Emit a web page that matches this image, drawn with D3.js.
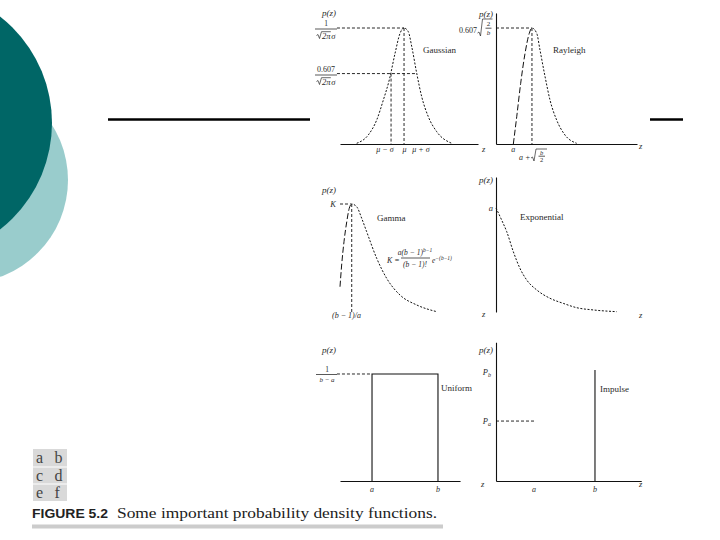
<!DOCTYPE html>
<html>
<head>
<meta charset="utf-8">
<script src="https://d3js.org/d3.v7.min.js"></script>
<style>
  body { margin: 0; background: #fff; }
  svg { display: block; }
  .lbl { font-family: "Liberation Serif", "DejaVu Serif", serif; fill: #2a2a2a; }
</style>
</head>
<body>
<div id="chart"></div>
<script>
//curve samples: z in panel units (0-10), p scaled so each peak is 1
var gaussianPoints = [[1.21, 0.006], [2.05, 0.078], [2.66, 0.207], [3.14, 0.379], [3.57, 0.552], [3.99, 0.782],
    [4.35, 0.954], [4.64, 1.0], [4.95, 0.968], [5.20, 0.839], [5.56, 0.609], [5.92, 0.408], [6.40, 0.235],
    [7.01, 0.106], [8.09, 0.006]];
var gaussianMarks = [3.70, 4.64, 5.58];          // mu - sigma, mu, mu + sigma
var gaussianLevels = [0.607, 1.0];

var rayleighPoints = [[1.23, 0], [1.47, 0.235], [1.75, 0.523], [2.06, 0.782], [2.36, 0.954], [2.55, 1.0],
    [2.89, 0.954], [3.12, 0.81], [3.48, 0.58], [3.83, 0.379], [4.30, 0.207], [4.89, 0.078], [5.72, 0.006]];
var rayleighMarks = [1.23, 2.55];                 // a, a + sqrt(b/2)

var gammaPoints = [[0, 0.234], [0.12, 0.435], [0.29, 0.651], [0.49, 0.836], [0.67, 0.96], [0.85, 1.0],
    [1.21, 0.975], [1.57, 0.868], [1.93, 0.744], [2.66, 0.497], [3.38, 0.312], [4.35, 0.157], [5.56, 0.065],
    [7.01, 0.003]];
var gammaPeak = 0.85;

var exponentialPoints = [[0, 0.963], [0.40, 0.852], [0.76, 0.744], [1.23, 0.558], [1.70, 0.404], [2.18, 0.296],
    [2.89, 0.204], [3.83, 0.127], [4.77, 0.080], [5.72, 0.040], [6.90, 0.019], [8.56, 0.003]];

var uniformEdges = [2.32, 7.10];
var uniformHeight = 0.964;

var impulseZ = [2.70, 7.02];
var impulseP = [0.54, 1.0];

var panelNames = ["Gaussian", "Rayleigh", "Gamma", "Exponential", "Uniform", "Impulse"];
var gridLetters = [["a", "b"], ["c", "d"], ["e", "f"]];

//svg area
var svg = d3.select("#chart")
    .append("svg")
    .attr("width", 720)
    .attr("height", 540);

//slide decoration: two teal discs and the title rule
svg.append("circle").attr("cx", -35).attr("cy", 180).attr("r", 103).attr("fill", "#99cccc");
svg.append("circle").attr("cx", -83).attr("cy", 123).attr("r", 135).attr("fill", "#006666");
svg.append("line")
    .attr("x1", 108).attr("x2", 683)
    .attr("y1", 119.5).attr("y2", 119.5)
    .attr("stroke", "#000")
    .attr("stroke-width", 2.5);

//white figure area sits on top of the rule
svg.append("rect")
    .attr("x", 310).attr("y", 0)
    .attr("width", 340).attr("height", 500)
    .attr("fill", "#fff");

var fig = svg.append("g");
var defs = svg.append("defs");

//scales: two columns, three rows
var xLeft = d3.scaleLinear().domain([0, 10]).range([340, 478]);
var xRight = d3.scaleLinear().domain([0, 10]).range([496, 637]);
var yRows = [
    d3.scaleLinear().domain([0, 1]).range([144, 28]),
    d3.scaleLinear().domain([0, 1]).range([312, 204]),
    d3.scaleLinear().domain([0, 1]).range([481, 370])
];

//helpers
function label(x, y, str, size, anchor, italic) {
    return fig.append("text")
        .attr("class", "lbl")
        .attr("x", x)
        .attr("y", y)
        .attr("font-size", size)
        .attr("text-anchor", anchor || "start")
        .attr("font-style", italic ? "italic" : "normal")
        .text(str);
}

function seg(x1, y1, x2, y2, dash, width) {
    return fig.append("line")
        .attr("x1", x1).attr("y1", y1)
        .attr("x2", x2).attr("y2", y2)
        .attr("stroke", "#111")
        .attr("stroke-width", width || 0.9)
        .attr("stroke-dasharray", dash || null);
}

function xAxis(x, y, zMax) {
    var s = x.copy().domain([0, zMax]).range([x(0), x(zMax)]);
    fig.append("g")
        .attr("transform", `translate(0, ${y(0)})`)
        .call(d3.axisBottom(s).tickValues([]).tickSizeOuter(0))
        .call(g => g.select(".domain").attr("stroke", "#111").attr("stroke-width", 1.1));
}

function yAxis(x, y, pMax) {
    var s = y.copy().domain([0, pMax]).range([y(0), y(pMax)]);
    fig.append("g")
        .attr("transform", `translate(${x(0)}, 0)`)
        .call(d3.axisLeft(s).tickValues([]).tickSizeOuter(0))
        .call(g => g.select(".domain").attr("stroke", "#111").attr("stroke-width", 1.1));
}

//draw a curve, steep rising side with long dashes, the rest dotted
function curve(points, x, y, splitZ, id) {
    var line = d3.line()
        .x(d => x(d[0]))
        .y(d => y(d[1]))
        .curve(d3.curveMonotoneX);
    var parts = [];
    if (splitZ != null) {
        defs.append("clipPath").attr("id", id + "-rise")
            .append("rect").attr("x", 0).attr("y", 0).attr("width", x(splitZ)).attr("height", 540);
        defs.append("clipPath").attr("id", id + "-fall")
            .append("rect").attr("x", x(splitZ)).attr("y", 0).attr("width", 720).attr("height", 540);
        parts = [[id + "-rise", "6,2.5"], [id + "-fall", "2,1.6"]];
    } else {
        parts = [[null, "2,1.6"]];
    }
    parts.forEach(function(p) {
        fig.append("path")
            .datum(points)
            .attr("d", line)
            .attr("fill", "none")
            .attr("stroke", "#111")
            .attr("stroke-width", 1)
            .attr("stroke-dasharray", p[1])
            .attr("clip-path", p[0] ? `url(#${p[0]})` : null);
    });
}

function radical(x, top, bottom, right) {
    fig.append("path")
        .attr("d", `M${x},${bottom - 3} L${x + 1.5},${bottom - 4} L${x + 3},${bottom} L${x + 5},${top} H${right}`)
        .attr("fill", "none")
        .attr("stroke", "#2a2a2a")
        .attr("stroke-width", 0.7);
}

//"sqrt(2 pi) sigma" denominator centred on cx
function sqrtTwoPiSigma(cx, base, size) {
    var t = label(0, base, "2π", size, "start", true);
    var w = t.node().getComputedTextLength();
    var s = label(0, base, "σ", size, "start", true);
    var ws = s.node().getComputedTextLength();
    var left = cx - (5.5 + w + 0.8 + ws) / 2;
    t.attr("x", left + 5.5);
    s.attr("x", left + 5.5 + w + 0.8);
    radical(left, base - size * 0.8, base, left + 5.5 + w + 0.3);
}

function fractionBar(x1, x2, y) {
    seg(x1, y, x2, y, null, 0.7);
}

var dash = "3,2";

// ---------- a: Gaussian ----------
var y0 = yRows[0];
xAxis(xLeft, y0, 10);
curve(gaussianPoints, xLeft, y0, null, "gauss");
seg(xLeft(-0.22), y0(gaussianLevels[1]), xLeft(gaussianMarks[1]), y0(gaussianLevels[1]), dash);
seg(xLeft(-0.22), y0(gaussianLevels[0]), xLeft(gaussianMarks[2]), y0(gaussianLevels[0]), dash);
seg(xLeft(gaussianMarks[0]), y0(gaussianLevels[0]), xLeft(gaussianMarks[0]), y0(0), dash);
seg(xLeft(gaussianMarks[1]), y0(gaussianLevels[1]), xLeft(gaussianMarks[1]), y0(0), dash);

label(336, 16, "p(z)", 9, "end", true);
label(326, 26, "1", 7.5, "middle");
fractionBar(315, 337, 29);
sqrtTwoPiSigma(326, 38.5, 8.5);
label(326, 72, "0.607", 8, "middle");
fractionBar(315, 337, 75);
sqrtTwoPiSigma(326, 84.5, 8.5);
label(385, 152, "μ − σ", 8, "middle", true);
label(404.5, 152, "μ", 8, "middle", true);
label(421, 152, "μ + σ", 8, "middle", true);
label(482, 152, "z", 8.5, "start", true);
label(423, 53, panelNames[0], 9, "start");

// ---------- b: Rayleigh ----------
xAxis(xRight, y0, 10);
yAxis(xRight, y0, 1.13);
curve(rayleighPoints, xRight, y0, rayleighMarks[1], "rayleigh");
seg(xRight(0), y0(1), xRight(rayleighMarks[1]), y0(1), dash);
seg(xRight(rayleighMarks[1]), y0(1), xRight(rayleighMarks[1]), y0(0), dash);

label(493, 17, "p(z)", 9, "end", true);
label(477, 33, "0.607", 8, "end");
radical(477.5, 19, 36, 492.5);
label(488.5, 26, "2", 7, "middle");
fractionBar(485.5, 491.5, 28.2);
label(488.5, 35, "b", 7, "middle", true);
label(xRight(rayleighMarks[0]), 152, "a", 8, "middle", true);
label(519, 160, "a +", 8, "start", true);
radical(531, 149, 161, 547);
label(541.5, 154.5, "b", 6.5, "middle", true);
fractionBar(538.5, 545, 156.2);
label(541.5, 161.5, "2", 6.5, "middle");
label(639, 149, "z", 8.5, "start", true);
label(553, 53, panelNames[1], 9, "start");

// ---------- c: Gamma ----------
var y1 = yRows[1];
curve(gammaPoints, xLeft, y1, gammaPeak, "gamma");
seg(xLeft(0), y1(1), xLeft(gammaPeak), y1(1), dash);
seg(xLeft(gammaPeak), y1(1), xLeft(gammaPeak), y1(0), dash);

label(336, 193, "p(z)", 9, "end", true);
label(336, 207, "K", 8.5, "end", true);
label(377, 221, panelNames[2], 9, "start");
label(387, 263, "K =", 8, "start", true);
var num = label(415, 255, "a(b − 1)", 7.5, "middle", true);
num.append("tspan").attr("dy", -3).attr("font-size", 5.5).text("b−1");
fractionBar(401, 430, 258);
label(415, 266.5, "(b − 1)!", 7.5, "middle", true);
var ex = label(432, 263, "e", 7.5, "start", true);
ex.append("tspan").attr("dy", -3.5).attr("font-size", 5.5).text("−(b−1)");
label(332, 318, "(b − 1)/a", 8, "start", true);
label(482, 317, "z", 8.5, "start", true);

// ---------- d: Exponential ----------
yAxis(xRight, y1, 1.25);
curve(exponentialPoints, xRight, y1, null, "expo");
label(493, 183, "p(z)", 9, "end", true);
label(493, 211, "a", 8.5, "end", true);
label(520, 220, panelNames[3], 9, "start");
label(639, 318, "z", 8.5, "start", true);

// ---------- e: Uniform ----------
var y2 = yRows[2];
xAxis(xLeft, y2, 8.7);
fig.append("path")
    .attr("d", d3.line()([
        [xLeft(uniformEdges[0]), y2(0)], [xLeft(uniformEdges[0]), y2(uniformHeight)],
        [xLeft(uniformEdges[1]), y2(uniformHeight)], [xLeft(uniformEdges[1]), y2(0)]
    ]))
    .attr("fill", "none")
    .attr("stroke", "#111")
    .attr("stroke-width", 1.1);
seg(xLeft(-0.22), y2(uniformHeight), xLeft(uniformEdges[0]), y2(uniformHeight), dash);

label(336, 353, "p(z)", 9, "end", true);
label(327, 371.5, "1", 7.5, "middle");
fractionBar(316, 337, 374.5);
label(327, 382, "b − a", 7, "middle", true);
label(xLeft(uniformEdges[0]), 492, "a", 8, "middle", true);
label(xLeft(uniformEdges[1]), 492, "b", 8, "middle", true);
label(481, 487, "z", 8.5, "start", true);
label(441, 391, panelNames[4], 9, "start");

// ---------- f: Impulse ----------
xAxis(xRight, y2, 10.3);
yAxis(xRight, y2, 1.25);
seg(xRight(impulseZ[1]), y2(0), xRight(impulseZ[1]), y2(impulseP[1]), null, 1.1);
seg(xRight(0), y2(impulseP[0]), xRight(impulseZ[0]), y2(impulseP[0]), dash);

label(493, 353, "p(z)", 9, "end", true);
var pb = label(491, 375, "P", 8.5, "end", true);
pb.append("tspan").attr("dy", 2).attr("font-size", 6).text("b");
var pa = label(491, 424, "P", 8.5, "end", true);
pa.append("tspan").attr("dy", 2).attr("font-size", 6).text("a");
label(xRight(impulseZ[0]), 492, "a", 8, "middle", true);
label(xRight(impulseZ[1]), 492, "b", 8, "middle", true);
label(639, 487, "z", 8.5, "start", true);
label(600, 392, panelNames[5], 9, "start");

// ---------- panel key and caption ----------
var key = svg.append("g");
key.append("rect")
    .attr("x", 33).attr("y", 449)
    .attr("width", 34).attr("height", 52)
    .attr("fill", "#d9d9d9");
[467, 484].forEach(function(yy) {
    key.append("line")
        .attr("x1", 33).attr("x2", 67)
        .attr("y1", yy).attr("y2", yy)
        .attr("stroke", "#fff").attr("stroke-width", 1);
});
gridLetters.forEach(function(row, i) {
    row.forEach(function(letter, j) {
        key.append("text")
            .attr("x", j === 0 ? 36 : 54.5)
            .attr("y", 463 + i * 17.5)
            .attr("font-family", "Liberation Serif, serif")
            .attr("font-size", 16)
            .attr("fill", "#444")
            .text(letter);
    });
});

svg.append("text")
    .attr("x", 32).attr("y", 518)
    .attr("font-family", "Liberation Sans, Arial, sans-serif")
    .attr("font-weight", "bold")
    .attr("font-size", 13.5)
    .attr("fill", "#222")
    .attr("textLength", 76)
    .attr("lengthAdjust", "spacingAndGlyphs")
    .text("FIGURE 5.2");
svg.append("text")
    .attr("x", 117).attr("y", 518)
    .attr("font-family", "Liberation Serif, serif")
    .attr("font-size", 14.5)
    .attr("fill", "#222")
    .attr("textLength", 320)
    .attr("lengthAdjust", "spacingAndGlyphs")
    .text("Some important probability density functions.");
svg.append("rect")
    .attr("x", 32).attr("y", 524.5)
    .attr("width", 411).attr("height", 4)
    .attr("fill", "#cccccc");
</script>
</body>
</html>
